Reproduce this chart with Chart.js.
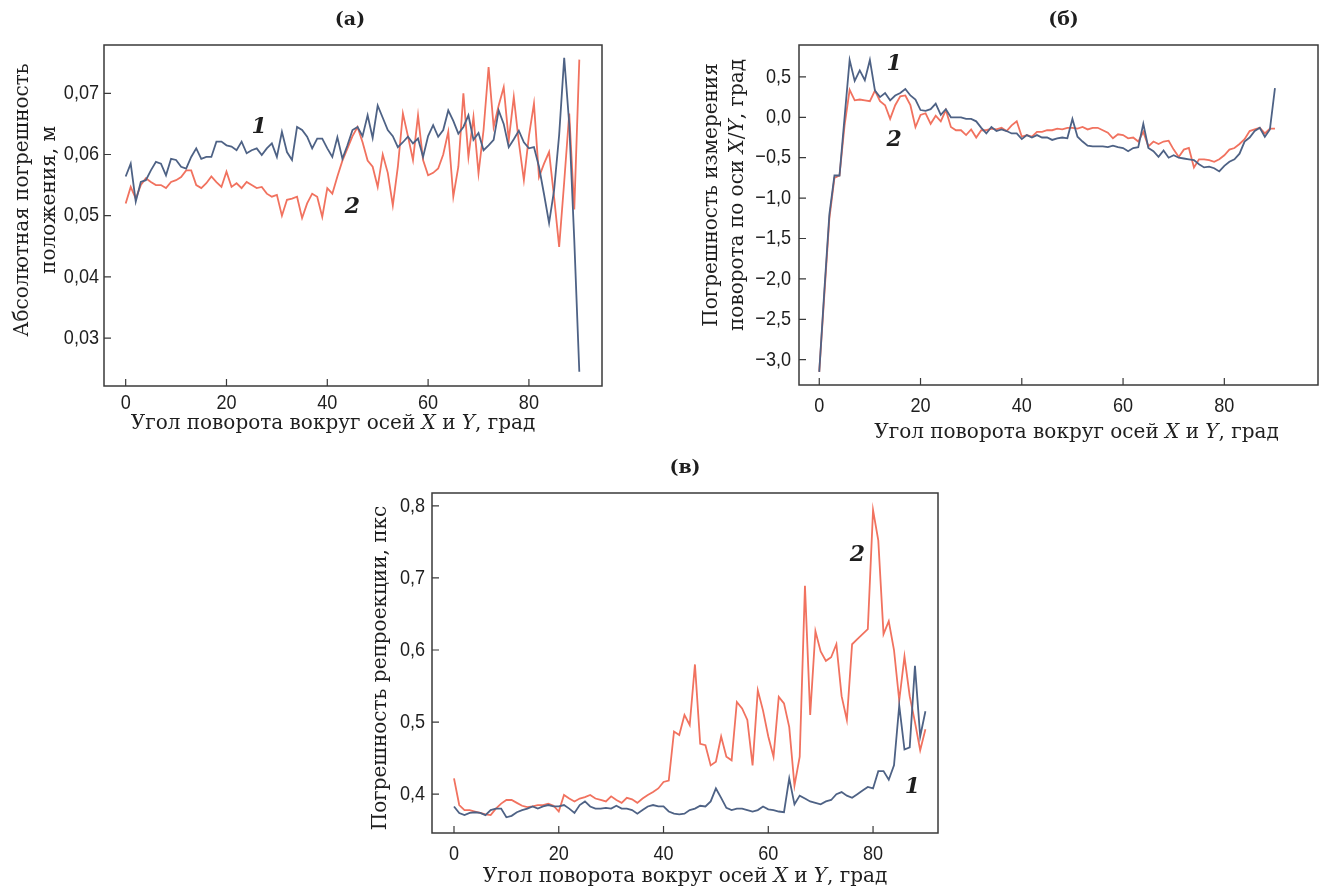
<!DOCTYPE html>
<html>
<head>
<meta charset="utf-8">
<script src="https://cdn.jsdelivr.net/npm/chart.js@4.4.1/dist/chart.umd.min.js"></script>
<style>
  html, body { margin: 0; padding: 0; background: #fff; overflow: hidden; width: 1324px; height: 889px; position: relative; }
  canvas { position: absolute; }
</style>
</head>
<body>
<canvas id="chartA" width="625" height="445" style="left:0px;top:0px"></canvas>
<canvas id="chartB" width="646" height="445" style="left:695px;top:0px"></canvas>
<canvas id="chartC" width="633" height="441" style="left:328px;top:448px"></canvas>
<script>
// углы поворота, град
const angles = [0,1,2,3,4,5,6,7,8,9,10,11,12,13,14,15,16,17,18,19,20,21,22,23,24,25,26,27,28,29,30,
  31,32,33,34,35,36,37,38,39,40,41,42,43,44,45,46,47,48,49,50,51,52,53,54,55,56,57,58,59,60,
  61,62,63,64,65,66,67,68,69,70,71,72,73,74,75,76,77,78,79,80,81,82,83,84,85,86,87,88,89,90];
const xTicks = [0, 20, 40, 60, 80];

// (а) абсолютная погрешность положения, м
const posErr1 = [0.0564,0.0585,0.0523,0.0555,0.0558,0.0574,0.0588,0.0585,0.0566,0.0593,0.0591,0.0580,0.0577,0.0596,0.0610,0.0593,
  0.0596,0.0596,0.0621,0.0621,0.0615,0.0613,0.0607,0.0621,0.0602,0.0607,0.0610,0.0599,0.0610,0.0618,0.0596,0.0637,0.0604,0.0591,
  0.0645,0.0640,0.0629,0.0610,0.0626,0.0626,0.0610,0.0596,0.0628,0.0593,0.0615,0.0640,0.0645,0.0630,0.0664,0.0627,0.0680,0.0660,
  0.0640,0.0630,0.0612,0.0620,0.0629,0.0618,0.0626,0.0596,0.0630,0.0648,0.0629,0.0640,0.0672,0.0655,0.0634,0.0645,0.0664,0.0624,
  0.0635,0.0607,0.0615,0.0624,0.0672,0.0650,0.0612,0.0625,0.0639,0.0620,0.0610,0.0612,0.0580,0.0535,0.0488,0.0542,0.0632,0.0758,
  0.0650,0.0460,0.0245];
const posErr2 = [0.0520,0.0547,0.0528,0.0550,0.0561,0.0555,0.0550,0.0550,0.0545,0.0555,0.0558,0.0563,0.0574,0.0574,0.0550,0.0545,
  0.0553,0.0564,0.0555,0.0547,0.0572,0.0547,0.0553,0.0545,0.0555,0.0550,0.0545,0.0547,0.0536,0.0531,0.0534,0.0500,0.0526,0.0528,
  0.0531,0.0496,0.0520,0.0536,0.0531,0.0498,0.0545,0.0536,0.0564,0.0590,0.0610,0.0630,0.0645,0.0620,0.0590,0.0580,0.0547,0.0600,
  0.0570,0.0517,0.0580,0.0667,0.0630,0.0591,0.0664,0.0591,0.0566,0.0570,0.0577,0.0600,0.0637,0.0531,0.0580,0.0700,0.0596,0.0661,
  0.0569,0.0640,0.0743,0.0645,0.0680,0.0710,0.0623,0.0694,0.0620,0.0558,0.0630,0.0683,0.0563,0.0585,0.0604,0.0530,0.0449,0.0555,
  0.0667,0.0510,0.0755];
const posTicks = [0.03, 0.04, 0.05, 0.06, 0.07];

// (б) погрешность измерения поворота по оси X/Y, град
const rotErr1 = [-3.15,-2.15,-1.20,-0.72,-0.72,0.00,0.71,0.45,0.58,0.46,0.71,0.33,0.25,0.30,0.21,0.27,0.30,0.35,0.27,0.22,0.09,
  0.08,0.10,0.17,0.03,0.10,0.00,0.00,0.00,-0.02,-0.02,-0.05,-0.13,-0.20,-0.12,-0.17,-0.15,-0.17,-0.20,-0.20,-0.27,-0.22,-0.25,
  -0.22,-0.25,-0.25,-0.28,-0.26,-0.25,-0.26,-0.02,-0.24,-0.30,-0.35,-0.36,-0.36,-0.36,-0.37,-0.35,-0.37,-0.38,-0.42,-0.38,-0.37,
  -0.08,-0.38,-0.42,-0.49,-0.41,-0.50,-0.47,-0.50,-0.51,-0.52,-0.53,-0.58,-0.62,-0.61,-0.63,-0.67,-0.60,-0.55,-0.52,-0.45,-0.30,
  -0.25,-0.17,-0.13,-0.24,-0.15,0.36];
const rotErr2 = [-3.15,-2.20,-1.25,-0.75,-0.72,-0.10,0.34,0.21,0.22,0.21,0.20,0.33,0.20,0.15,-0.02,0.15,0.26,0.27,0.15,-0.12,0.03,
  0.05,-0.08,0.02,-0.05,0.09,-0.12,-0.16,-0.16,-0.22,-0.15,-0.25,-0.16,-0.16,-0.14,-0.15,-0.13,-0.17,-0.10,-0.05,-0.24,-0.22,
  -0.24,-0.18,-0.18,-0.16,-0.16,-0.14,-0.15,-0.13,-0.13,-0.14,-0.12,-0.15,-0.13,-0.13,-0.16,-0.19,-0.26,-0.21,-0.22,-0.26,-0.25,
  -0.30,-0.18,-0.36,-0.30,-0.33,-0.30,-0.29,-0.40,-0.49,-0.40,-0.38,-0.62,-0.52,-0.52,-0.53,-0.55,-0.52,-0.47,-0.40,-0.38,-0.33,
  -0.27,-0.17,-0.15,-0.13,-0.20,-0.14,-0.14];
const rotTicks = [-3.0, -2.5, -2.0, -1.5, -1.0, -0.5, 0.0, 0.5];

// (в) погрешность репроекции, пкс
const reprErr1 = [0.383,0.374,0.371,0.374,0.375,0.374,0.371,0.378,0.380,0.380,0.368,0.370,0.375,0.378,0.380,0.383,0.380,0.383,
  0.385,0.383,0.383,0.385,0.380,0.374,0.385,0.390,0.383,0.380,0.380,0.381,0.380,0.384,0.380,0.380,0.378,0.373,0.378,0.383,0.385,
  0.383,0.383,0.376,0.373,0.372,0.373,0.378,0.380,0.384,0.383,0.390,0.408,0.395,0.381,0.378,0.380,0.380,0.378,0.376,0.378,0.383,
  0.379,0.378,0.376,0.375,0.422,0.386,0.398,0.394,0.390,0.388,0.386,0.390,0.392,0.400,0.403,0.398,0.395,0.400,0.405,0.410,0.408,
  0.432,0.432,0.420,0.440,0.523,0.462,0.465,0.578,0.480,0.515];
const reprErr2 = [0.422,0.385,0.378,0.378,0.376,0.374,0.372,0.371,0.380,0.387,0.392,0.392,0.388,0.384,0.382,0.383,0.385,0.385,
  0.387,0.384,0.376,0.399,0.394,0.390,0.394,0.396,0.399,0.394,0.392,0.390,0.397,0.392,0.388,0.395,0.393,0.388,0.394,0.399,0.403,
  0.408,0.417,0.419,0.487,0.482,0.510,0.496,0.580,0.470,0.468,0.440,0.445,0.480,0.452,0.447,0.528,0.519,0.503,0.440,0.544,0.516,
  0.480,0.452,0.535,0.526,0.493,0.412,0.452,0.689,0.510,0.626,0.598,0.585,0.590,0.608,0.536,0.503,0.608,0.615,0.622,0.629,0.794,
  0.752,0.622,0.640,0.600,0.530,0.591,0.536,0.500,0.461,0.490];
const reprTicks = [0.4, 0.5, 0.6, 0.7, 0.8];

const blue = "#4e6285";
const red = "#f1725f";
const ink = "#1e1e1e";
const serif = '"DejaVu Serif", serif';
const tickFont = '21px "Liberation Sans", Arial, sans-serif';

const xTitle = [["Угол поворота вокруг осей ", false], ["X", true], [" и ", false], ["Y", true], [", град", false]];

function drawRich(ctx, parts, cx, cy, rot) {
  ctx.save();
  ctx.translate(cx, cy);
  ctx.rotate(rot);
  ctx.textBaseline = "middle";
  ctx.textAlign = "left";
  const fonts = parts.map(p => (p[1] ? "italic " : "") + "20px " + serif);
  let total = 0;
  const widths = parts.map((p, i) => { ctx.font = fonts[i]; const w = ctx.measureText(p[0]).width; total += w; return w; });
  let x = -total / 2;
  parts.forEach((p, i) => { ctx.font = fonts[i]; ctx.fillText(p[0], x, 0); x += widths[i]; });
  ctx.restore();
}

// узкие подписи делений
function narrowText(ctx, text, x, y, align) {
  ctx.save();
  ctx.translate(x, y);
  ctx.scale(0.86, 1);
  ctx.textAlign = align;
  ctx.fillText(text, 0, 0);
  ctx.restore();
}

function deco(cfg) {
  return {
    id: "deco",
    afterDatasetsDraw(chart) {
      const { ctx, chartArea: a, scales: { x, y } } = chart;
      ctx.save();
      ctx.strokeStyle = "#3a3a3a";
      ctx.lineWidth = 1.5;
      ctx.strokeRect(a.left, a.top, a.right - a.left, a.bottom - a.top);
      ctx.lineWidth = 1.2;
      ctx.beginPath();
      x.ticks.forEach(t => { const px = x.getPixelForValue(t.value); ctx.moveTo(px, a.bottom); ctx.lineTo(px, a.bottom - 7); });
      y.ticks.forEach(t => { const py = y.getPixelForValue(t.value); ctx.moveTo(a.left, py); ctx.lineTo(a.left + 7, py); });
      ctx.stroke();

      ctx.fillStyle = ink;
      ctx.textBaseline = "middle";
      ctx.font = tickFont;
      x.ticks.forEach(t => narrowText(ctx, String(t.value), x.getPixelForValue(t.value), a.bottom + cfg.xLabDy, "center"));
      y.ticks.forEach(t => narrowText(ctx, cfg.fmt(t.value), a.left - cfg.yLabPad, y.getPixelForValue(t.value), "right"));

      ctx.textAlign = "center";
      ctx.font = "italic bold 22px " + serif;
      cfg.tags.forEach(t => ctx.fillText(t[0], x.getPixelForValue(t[1]), y.getPixelForValue(t[2])));

      ctx.font = "bold 19px " + serif;
      ctx.fillText(cfg.title, (a.left + a.right) / 2 + cfg.titleDx, cfg.titleY);

      drawRich(ctx, xTitle, (a.left + a.right) / 2 + cfg.xTitleDx, a.bottom + cfg.xTitleDy, 0);
      cfg.yTitle.forEach((parts, i) => drawRich(ctx, parts, a.left + cfg.yTitleDx[i], cfg.yTitleCy, -Math.PI / 2));
      ctx.restore();
    }
  };
}

function makeChart(id, s1, s2, xr, yr, yTicks, axisH, cfg) {
  const canvas = document.getElementById(id);
  return new Chart(canvas.getContext("2d"), {
    type: "line",
    data: {
      datasets: [
        { label: "1", data: angles.map((a, i) => ({ x: a, y: s1[i] })), borderColor: blue, borderWidth: 1.8 },
        { label: "2", data: angles.map((a, i) => ({ x: a, y: s2[i] })), borderColor: red, borderWidth: 1.8 }
      ]
    },
    options: {
      responsive: false,
      animation: false,
      events: [],
      layout: { padding: { left: 0, top: cfg.padTop, right: 23, bottom: 0 } },
      elements: { point: { radius: 0 }, line: { tension: 0 } },
      plugins: { legend: { display: false }, tooltip: { enabled: false } },
      scales: {
        x: {
          type: "linear", min: xr[0], max: xr[1],
          afterBuildTicks: s => { s.ticks = xTicks.map(v => ({ value: v })); },
          afterFit: s => { s.height = axisH; },
          grid: { display: false, drawTicks: false },
          border: { display: false },
          ticks: { display: false }
        },
        y: {
          type: "linear", min: yr[0], max: yr[1],
          afterBuildTicks: s => { s.ticks = yTicks.map(v => ({ value: v })); },
          afterFit: s => { s.width = 104; },
          grid: { display: false, drawTicks: false },
          border: { display: false },
          ticks: { display: false }
        }
      }
    },
    plugins: [deco(cfg)]
  });
}

const fmt2 = v => v.toFixed(2).replace(".", ",");
const fmt1 = v => (v < 0 ? "\u2212" : "") + Math.abs(v).toFixed(1).replace(".", ",");

makeChart("chartA", posErr1, posErr2, [-4.3, 94.5], [0.02217, 0.07789], posTicks, 59, {
  padTop: 45, fmt: fmt2, xLabDy: 17, yLabPad: 5,
  title: "(а)", titleDx: -3, titleY: 20, xTitleDx: -20, xTitleDy: 38,
  yTitle: [[["Абсолютная погрешность", false]], [["положения, м", false]]], yTitleDx: [-81, -54], yTitleCy: 200,
  tags: [["1", 26.5, 0.0645], ["2", 45, 0.0513]]
});

makeChart("chartB", rotErr1, rotErr2, [-4.0, 98.5], [-3.313, 0.8948], rotTicks, 60, {
  padTop: 45, fmt: fmt1, xLabDy: 21, yLabPad: 8,
  title: "(б)", titleDx: 5, titleY: 20, xTitleDx: 18, xTitleDy: 48,
  yTitle: [[["Погрешность измерения", false]],
           [["поворота по оси ", false], ["X", true], ["/", false], ["Y", true], [", град", false]]],
  yTitleDx: [-87, -61], yTitleCy: 195,
  tags: [["1", 14.8, 0.66], ["2", 14.8, -0.28]]
});

makeChart("chartC", reprErr1, reprErr2, [-4.2, 92.4], [0.3462, 0.8178], reprTicks, 56, {
  padTop: 45, fmt: fmt1, xLabDy: 21, yLabPad: 7,
  title: "(в)", titleDx: 0, titleY: 20, xTitleDx: 0, xTitleDy: 44,
  yTitle: [[["Погрешность репроекции, пкс", false]]], yTitleDx: [-51], yTitleCy: 220,
  tags: [["2", 77, 0.732], ["1", 87.5, 0.41]]
});
</script>
</body>
</html>
